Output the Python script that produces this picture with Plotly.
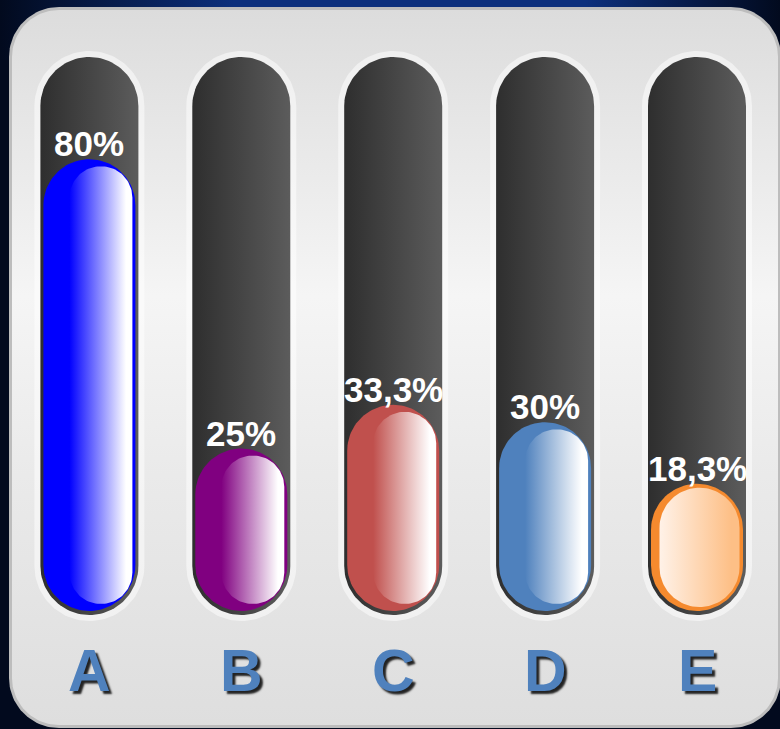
import numpy as np
import plotly.graph_objects as go

# ---------------- data ----------------
categories = ["A", "B", "C", "D", "E"]
values = [80, 25, 33.3, 30, 18.3]
base_colors = ["#0000ff", "#800080", "#c0504d", "#4f81bd", "#f58a2e"]
shine_left = ["#0000ff", "#800080", "#c0504d", "#4f81bd", "#fff2e8"]
shine_right = ["#ffffff", "#ffffff", "#ffffff", "#ffffff", "#fdbf86"]

# ---------------- geometry (pixel scale of the axes) ----------------
W, H = 780, 729
PX_PER_X = 151.9      # pixels per category step
PX_PER_Y = 5.26       # pixels per percent
X0_PX = 89.4          # pixel x of first category
Y0_PX = 580           # pixel y of 0 %

x_range = [(0 - X0_PX) / PX_PER_X, (W - X0_PX) / PX_PER_X]
y_range = [(Y0_PX - H) / PX_PER_Y, (Y0_PX - 0) / PX_PER_Y]


def px2x(px):
    return (px - X0_PX) / PX_PER_X


def px2y(py):
    return (Y0_PX - py) / PX_PER_Y


def rrect(xc, hw_px, y_top, y_bot, r_px, n=28):
    """rounded rectangle, xc/y_top/y_bot in data units, widths in px"""
    h_px = (y_top - y_bot) * PX_PER_Y
    r_px = min(r_px, hw_px, h_px / 2)
    rx = r_px / PX_PER_X
    ry = r_px / PX_PER_Y
    hw = hw_px / PX_PER_X
    xs, ys = [], []
    corners = [
        (xc + hw - rx, y_top - ry, 0.0, np.pi / 2),
        (xc - hw + rx, y_top - ry, np.pi / 2, np.pi),
        (xc - hw + rx, y_bot + ry, np.pi, 1.5 * np.pi),
        (xc + hw - rx, y_bot + ry, 1.5 * np.pi, 2 * np.pi),
    ]
    for cx, cy, a0, a1 in corners:
        a = np.linspace(a0, a1, n)
        xs.extend(cx + rx * np.cos(a))
        ys.extend(cy + ry * np.sin(a))
    xs.append(xs[0])
    ys.append(ys[0])
    return xs, ys


fig = go.Figure()


def add_shape_trace(xs, ys, color=None, gradient=None, gtype="horizontal"):
    kw = dict(x=xs, y=ys, mode="lines", fill="toself",
              line=dict(width=0, color="rgba(0,0,0,0)"),
              hoverinfo="skip", showlegend=False)
    if gradient is not None:
        kw["fillgradient"] = dict(type=gtype, colorscale=gradient)
    else:
        kw["fillcolor"] = color
    fig.add_trace(go.Scatter(**kw))


# background top glow
add_shape_trace([px2x(0), px2x(W), px2x(W), px2x(0), px2x(0)],
                [px2y(0), px2y(0), px2y(60), px2y(60), px2y(0)],
                gradient=[[0, "#020a1e"], [0.3, "#0c2f7c"], [0.75, "#0c2f7c"], [1, "#020a1e"]])

# panel border + panel
pcx = px2x((9 + 781) / 2)
xs, ys = rrect(pcx, (781 - 9) / 2, px2y(7), px2y(728), 50)
add_shape_trace(xs, ys, color="#bdbdbd")
xs, ys = rrect(pcx, (778 - 12) / 2, px2y(10), px2y(725), 47)
add_shape_trace(xs, ys, gradient=[[0, "#dedede"], [0.35, "#eaeaea"], [0.6, "#f5f5f5"],
                                  [0.88, "#e4e4e4"], [1, "#dcdcdc"]], gtype="vertical")

track_top = px2y(57)
track_bot = px2y(615)
bar_floor = px2y(611)

for i, (cat, v) in enumerate(zip(categories, values)):
    # halo
    xs, ys = rrect(i, 55, track_top + 6 / PX_PER_Y, track_bot - 6 / PX_PER_Y, 55)
    add_shape_trace(xs, ys, color="rgba(255,255,255,0.5)")
    # track
    xs, ys = rrect(i, 49, track_top, track_bot, 49)
    add_shape_trace(xs, ys, gradient=[[0, "#2e2e2e"], [1, "#5c5c5c"]])
    # bar base
    xs, ys = rrect(i, 46, v, bar_floor, 46)
    add_shape_trace(xs, ys, color=base_colors[i])
    # shine
    if cat == "E":
        off, hw, inset = 2.5 / PX_PER_X, 40, 4
    else:
        off, hw, inset = 11.5 / PX_PER_X, 31.5, 7
    xs, ys = rrect(i + off, hw, v - inset / PX_PER_Y, bar_floor + inset / PX_PER_Y, hw)
    add_shape_trace(xs, ys, gradient=[[0, shine_left[i]], [0.9, shine_right[i]],
                                      [1, shine_right[i]]])
    # value label
    label = f"{v:g}%".replace(".", ",")
    fig.add_annotation(x=i, y=v, text=label, showarrow=False, yanchor="bottom",
                       yshift=-6,
                       font=dict(family="Liberation Sans, Arial", size=35,
                                 color="white", weight="bold"))
    # category label
    fig.add_annotation(x=i, y=px2y(671), text=cat, showarrow=False, yanchor="middle",
                       font=dict(family="Liberation Sans, Arial", size=59,
                                 color="#4f81bd", weight="bold",
                                 shadow="3px 3px 2px rgba(0,0,0,0.85)"))

fig.update_layout(
    width=W, height=H,
    margin=dict(l=0, r=0, t=0, b=0),
    paper_bgcolor="#020a1e",
    plot_bgcolor="rgba(0,0,0,0)",
    xaxis=dict(range=x_range, visible=False, fixedrange=True),
    yaxis=dict(range=y_range, visible=False, fixedrange=True),
    showlegend=False,
)

fig.write_html("out.html")
